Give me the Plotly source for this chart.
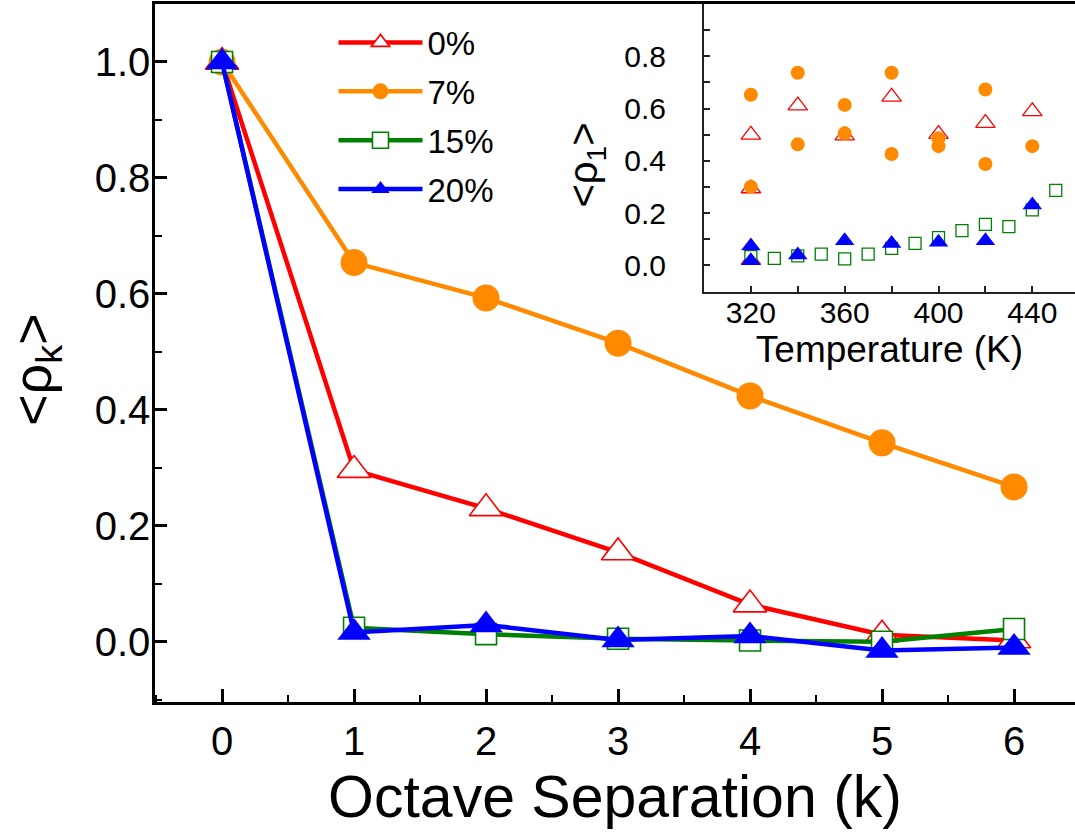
import plotly.graph_objects as go

# ---------------- data ----------------
k = [0, 1, 2, 3, 4, 5, 6]
rho_0 = [1.0, 0.296, 0.230, 0.154, 0.064, 0.012, 0.002]
rho_7 = [1.0, 0.654, 0.593, 0.515, 0.424, 0.343, 0.267]
rho_15 = [1.0, 0.024, 0.013, 0.005, 0.002, 0.000, 0.022]
rho_20 = [1.0, 0.016, 0.029, 0.003, 0.010, -0.015, -0.010]
series_names = ["0%", "7%", "15%", "20%"]

T_0 = [320, 320, 320, 340, 360, 380, 400, 420, 440]
r1_0 = [0.499, 0.294, 0.020, 0.611, 0.496, 0.645, 0.502, 0.544, 0.589]
T_7 = [320, 320, 340, 340, 360, 360, 380, 380, 400, 400, 420, 420, 440]
r1_7 = [0.653, 0.301, 0.737, 0.463, 0.614, 0.505, 0.737, 0.426, 0.486, 0.456, 0.673, 0.388, 0.456]
T_15 = [320, 330, 340, 350, 360, 370, 380, 390, 400, 410, 420, 430, 440, 450]
r1_15 = [0.033, 0.027, 0.036, 0.043, 0.025, 0.043, 0.065, 0.084, 0.106, 0.133, 0.157, 0.148, 0.212, 0.287]
T_20 = [320, 320, 340, 360, 380, 400, 420, 440]
r1_20 = [0.074, 0.018, 0.040, 0.094, 0.084, 0.088, 0.094, 0.231]

RED, ORANGE, GREEN, BLUE = "#FF0000", "#FF8A00", "#008000", "#0000FF"
FONT = "Arial, Liberation Sans, sans-serif"

fig = go.Figure()

main_specs = [
    (rho_0, RED, dict(symbol="triangle-up", size=29, color="white", line=dict(color=RED, width=1.6))),
    (rho_7, ORANGE, dict(symbol="circle", size=27, color=ORANGE, line=dict(width=0))),
    (rho_15, GREEN, dict(symbol="square", size=21, color="white", line=dict(color=GREEN, width=1.6))),
    (rho_20, BLUE, dict(symbol="triangle-up", size=29, color=BLUE, line=dict(width=0))),
]
for i, (vals, col, mk) in enumerate(main_specs):
    fig.add_trace(go.Scatter(
        x=k, y=vals, mode="lines+markers", name=series_names[i],
        line=dict(color=col, width=4.5), marker=mk,
        legendgroup=series_names[i], xaxis="x", yaxis="y"))

inset_specs = [
    (T_0, r1_0, dict(symbol="triangle-up", size=17, color="white", line=dict(color=RED, width=1.3))),
    (T_7, r1_7, dict(symbol="circle", size=14, color=ORANGE, line=dict(width=0))),
    (T_15, r1_15, dict(symbol="square", size=12, color="white", line=dict(color=GREEN, width=1.3))),
    (T_20, r1_20, dict(symbol="triangle-up", size=17, color=BLUE, line=dict(width=0))),
]
for tx, ty, mk in inset_specs:
    fig.add_trace(go.Scatter(x=tx, y=ty, mode="markers", marker=mk,
                             showlegend=False, xaxis="x2", yaxis="y2"))

fig.update_layout(
    width=1075, height=838,
    margin=dict(l=155, r=0, t=4, b=136, pad=0),
    paper_bgcolor="white", plot_bgcolor="white",
    font=dict(family=FONT, color="black"),
    showlegend=True,
    legend=dict(x=0.194, y=0.985, xanchor="left", yanchor="top",
                bgcolor="rgba(0,0,0,0)", font=dict(size=33, family=FONT),
                itemwidth=84, traceorder="grouped", tracegroupgap=3),
    xaxis=dict(domain=[0, 1], range=[-0.508, 6.462], tickvals=k,
               ticks="inside", ticklen=13, tickwidth=2.5, tickcolor="black",
               minor=dict(ticks="inside", ticklen=7, tickwidth=2, dtick=0.5, tick0=-0.5, tickcolor="black"),
               showline=True, linewidth=2.5, linecolor="black", mirror=True,
               showgrid=False, zeroline=False, automargin=False,
               tickfont=dict(size=40, family=FONT), ticklabelstandoff=2,
               title=dict(text="Octave Separation (k)", font=dict(size=59, family=FONT), standoff=14)),
    yaxis=dict(domain=[0, 1], range=[-0.104, 1.100], tick0=0, dtick=0.2, tickformat=".1f",
               ticks="inside", ticklen=12, tickwidth=2.5, tickcolor="black",
               minor=dict(ticks="inside", ticklen=7, tickwidth=2, dtick=0.1, tick0=0, tickcolor="black"),
               showline=True, linewidth=2.5, linecolor="black", mirror=False,
               showgrid=False, zeroline=False, automargin=False,
               tickfont=dict(size=40, family=FONT), ticklabelstandoff=-6),
    xaxis2=dict(domain=[0.5967, 1.0], anchor="y2", range=[300, 458.2], tick0=320, dtick=40,
                ticks="inside", ticklen=6, tickwidth=1.5, tickcolor="#222",
                minor=dict(ticks="inside", ticklen=6, tickwidth=1.5, dtick=20, tick0=300, tickcolor="#222"),
                showline=True, linewidth=2, linecolor="#222", mirror=False,
                showgrid=False, zeroline=False, automargin=False,
                tickfont=dict(size=30, family=FONT), ticklabelstandoff=-7,
                title=dict(text="Temperature (K)", font=dict(size=37, family=FONT), standoff=0)),
    yaxis2=dict(domain=[0.5874, 1.0], anchor="x2", range=[-0.102, 1.0],
                tickformat=".1f", tickvals=[0, 0.2, 0.4, 0.6, 0.8],
                ticks="inside", ticklen=6, tickwidth=1.5, tickcolor="#222",
                minor=dict(ticks="inside", ticklen=6, tickwidth=1.5, dtick=0.1, tick0=0, tickcolor="#222"),
                showline=True, linewidth=2, linecolor="#222", mirror=False,
                showgrid=False, zeroline=False, automargin=False,
                tickfont=dict(size=30, family=FONT), ticklabelstandoff=30),
    annotations=[
        dict(text="&lt;ρ<sub>k</sub>&gt;", textangle=-90, showarrow=False,
             xref="paper", yref="paper", x=-0.1293, y=0.4756, xanchor="center", yanchor="middle",
             font=dict(size=54, family=FONT, color="black")),
        dict(text="&lt;ρ<sub>1</sub>&gt;", textangle=-90, showarrow=False,
             xref="paper", yref="paper", x=0.4690, y=0.7693, xanchor="center", yanchor="middle",
             font=dict(size=40, family=FONT, color="black")),
    ],
)

fig.write_html("out.html")
